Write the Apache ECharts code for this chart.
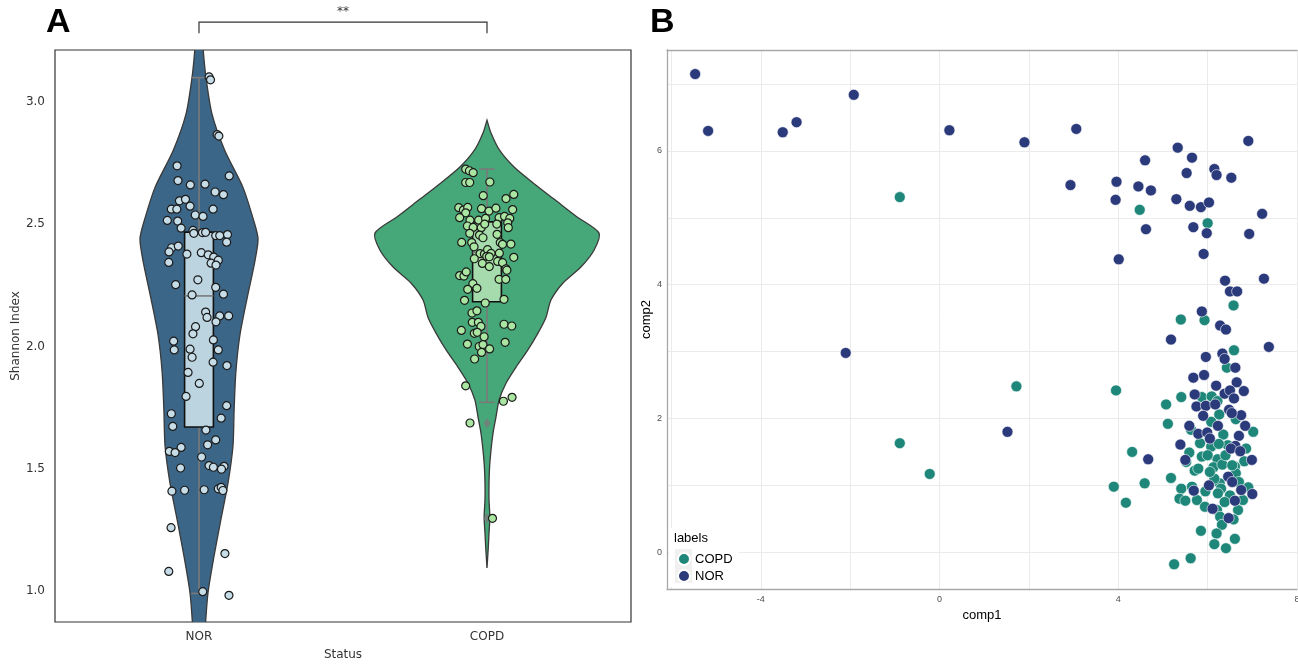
<!DOCTYPE html>
<html>
<head>
<meta charset="utf-8">
<script src="https://cdn.jsdelivr.net/npm/echarts@6/dist/echarts.min.js"></script>
<style>
  html, body { margin: 0; padding: 0; background: #fff; }
  #chart { width: 1298px; height: 665px; }
</style>
</head>
<body>
<div id="chart"></div>
<script>
// ---------- Panel A: Shannon index by status ----------
const groups = ['NOR', 'COPD'];
const yTicksA = [1.0, 1.5, 2.0, 2.5, 3.0];

// jittered samples: [x offset from group centre (category units), Shannon index]
const norShannon = [
  [0.035, 3.103], [0.040, 3.091], [0.063, 2.867], [0.069, 2.861], [-0.076, 2.739], [0.105, 2.698],
  [-0.073, 2.679], [-0.030, 2.661], [0.021, 2.664], [0.056, 2.632], [0.085, 2.621], [-0.068, 2.596],
  [-0.047, 2.602], [-0.031, 2.574], [-0.096, 2.562], [-0.077, 2.562], [0.049, 2.562], [-0.013, 2.538],
  [0.014, 2.532], [-0.110, 2.516], [-0.074, 2.513], [-0.062, 2.484], [-0.021, 2.475], [0.012, 2.466],
  [0.023, 2.467], [-0.018, 2.463], [0.058, 2.454], [0.072, 2.454], [0.099, 2.458], [0.096, 2.427],
  [-0.095, 2.404], [-0.072, 2.411], [-0.104, 2.387], [-0.042, 2.378], [0.008, 2.384], [0.032, 2.375],
  [0.051, 2.366], [0.067, 2.353], [0.042, 2.341], [0.059, 2.333], [-0.105, 2.344], [-0.004, 2.273],
  [-0.081, 2.253], [0.058, 2.242], [-0.024, 2.211], [0.085, 2.214], [0.023, 2.141], [0.028, 2.119],
  [0.072, 2.125], [0.103, 2.125], [0.059, 2.101], [-0.012, 2.081], [-0.021, 2.052], [-0.088, 2.022],
  [0.050, 2.027], [-0.086, 1.986], [-0.031, 1.989], [0.067, 1.986], [-0.024, 1.956], [0.049, 1.936],
  [0.097, 1.922], [-0.038, 1.894], [0.001, 1.849], [-0.045, 1.796], [0.096, 1.758], [-0.096, 1.725],
  [0.077, 1.707], [-0.091, 1.673], [0.024, 1.658], [0.058, 1.618], [0.030, 1.598], [-0.062, 1.587],
  [-0.103, 1.571], [-0.083, 1.566], [0.009, 1.548], [0.035, 1.513], [0.050, 1.506], [0.087, 1.510],
  [0.078, 1.498], [-0.064, 1.503], [-0.094, 1.408], [-0.050, 1.412], [0.018, 1.414], [0.067, 1.418],
  [0.077, 1.424], [0.083, 1.411], [-0.097, 1.259], [0.090, 1.153], [-0.105, 1.080], [0.013, 0.997],
  [0.104, 0.982]
];
const copdShannon = [
  [-0.074, 2.726], [-0.061, 2.719], [-0.048, 2.711], [-0.074, 2.671], [-0.060, 2.671], [0.010, 2.673],
  [-0.013, 2.617], [0.066, 2.605], [0.093, 2.622], [-0.098, 2.568], [-0.082, 2.558], [-0.067, 2.569],
  [-0.074, 2.547], [-0.095, 2.527], [-0.019, 2.564], [0.007, 2.554], [0.031, 2.566], [0.089, 2.560],
  [-0.059, 2.517], [-0.029, 2.517], [-0.005, 2.524], [0.042, 2.527], [0.061, 2.532], [0.079, 2.524],
  [-0.068, 2.493], [-0.048, 2.487], [-0.020, 2.486], [-0.008, 2.501], [0.034, 2.501], [0.072, 2.506],
  [0.074, 2.486], [-0.060, 2.463], [-0.026, 2.456], [-0.014, 2.445], [0.035, 2.459], [-0.088, 2.426],
  [-0.053, 2.425], [-0.045, 2.408], [0.046, 2.425], [0.054, 2.418], [0.083, 2.419], [-0.024, 2.380],
  [-0.009, 2.378], [0.002, 2.396], [0.014, 2.381], [-0.001, 2.369], [0.008, 2.367], [0.043, 2.382],
  [-0.044, 2.359], [0.093, 2.365], [-0.016, 2.340], [0.008, 2.327], [0.037, 2.348], [0.054, 2.343],
  [0.066, 2.318], [0.069, 2.312], [-0.095, 2.290], [-0.080, 2.288], [-0.072, 2.305], [0.042, 2.275],
  [0.065, 2.275], [-0.049, 2.257], [-0.035, 2.238], [-0.067, 2.234], [-0.078, 2.189], [-0.006, 2.178],
  [0.059, 2.193], [-0.052, 2.137], [-0.035, 2.146], [-0.051, 2.099], [-0.030, 2.099], [-0.021, 2.082],
  [-0.089, 2.066], [-0.044, 2.054], [-0.034, 2.058], [0.059, 2.091], [0.086, 2.084], [-0.010, 2.040],
  [-0.068, 2.010], [0.063, 2.017], [-0.027, 2.000], [-0.014, 2.008], [0.009, 1.990], [-0.019, 1.976],
  [-0.043, 1.949], [-0.074, 1.839], [0.087, 1.792], [0.057, 1.776], [-0.059, 1.687], [0.019, 1.297]
];

// violin outlines: [Shannon index, half width in category units]
const norViolin = [
  [3.30, 0.010], [3.208, 0.015], [3.103, 0.024], [2.952, 0.045], [2.801, 0.090], [2.650, 0.153],
  [2.499, 0.194], [2.439, 0.205], [2.348, 0.194], [2.197, 0.167], [2.046, 0.142], [1.895, 0.128],
  [1.744, 0.122], [1.594, 0.118], [1.443, 0.101], [1.292, 0.076], [1.141, 0.052], [0.990, 0.031],
  [0.839, 0.021], [0.75, 0.016]
];
const copdViolin = [
  [2.926, 0.000], [2.873, 0.014], [2.804, 0.043], [2.734, 0.094], [2.669, 0.160], [2.600, 0.236],
  [2.530, 0.313], [2.464, 0.389], [2.395, 0.372], [2.325, 0.326], [2.260, 0.264], [2.190, 0.222],
  [2.120, 0.205], [2.055, 0.177], [1.986, 0.142], [1.916, 0.101], [1.850, 0.066], [1.781, 0.042],
  [1.710, 0.031], [1.646, 0.021], [1.577, 0.014], [1.507, 0.009], [1.440, 0.007], [1.372, 0.007],
  [1.300, 0.010], [1.237, 0.007], [1.168, 0.004], [1.094, 0.000]
];

// box stats: [lower whisker, Q1, median, Q3, upper whisker]
const norBox = [0.99, 1.671, 2.207, 2.468, 3.10];
const copdBox = [1.772, 2.183, 2.385, 2.510, 2.726];
const copdOutliers = [1.686, 1.297];
const sigLabel = '**';

// ---------- Panel B: PCA scores (comp1, comp2) ----------
const xTicksB = [-4, 0, 4, 8];
const yTicksB = [0, 2, 4, 6];
const norPCA = [
  [-5.47, 7.15], [-5.18, 6.30], [-3.51, 6.28], [-3.20, 6.43], [-1.92, 6.84], [0.22, 6.31], [1.90, 6.13],
  [3.06, 6.33], [2.93, 5.49], [-2.10, 2.98], [1.52, 1.80],
  [5.33, 6.05], [6.91, 6.15], [4.60, 5.86], [5.65, 5.90], [5.53, 5.67], [6.15, 5.73], [6.20, 5.64],
  [6.53, 5.60], [3.96, 5.54], [4.45, 5.47], [4.73, 5.41], [3.94, 5.27], [5.30, 5.28], [5.60, 5.18],
  [5.85, 5.16], [6.03, 5.23], [7.22, 5.06], [4.62, 4.83], [5.68, 4.86], [5.98, 4.77], [6.93, 4.76],
  [4.01, 4.38], [5.91, 4.46], [6.39, 4.06], [7.26, 4.09], [6.50, 3.90], [6.66, 3.90], [5.87, 3.60],
  [6.28, 3.39], [6.41, 3.33], [5.18, 3.18], [7.37, 3.07],
  [6.33, 2.97], [6.38, 2.89], [5.96, 2.92], [6.62, 2.76], [5.68, 2.61], [5.92, 2.65], [6.19, 2.49],
  [6.65, 2.54], [6.81, 2.41], [5.71, 2.36], [6.38, 2.37], [6.50, 2.42], [6.59, 2.30], [5.75, 2.18],
  [5.96, 2.19], [6.17, 2.21], [5.90, 2.04], [6.48, 2.13], [6.75, 2.05], [6.54, 2.08], [5.59, 1.89],
  [6.23, 1.89], [6.84, 1.89], [5.79, 1.77], [5.99, 1.79], [6.05, 1.70], [6.70, 1.74], [5.39, 1.61],
  [6.62, 1.59], [6.52, 1.55], [6.73, 1.51], [4.67, 1.39], [5.50, 1.38], [6.99, 1.38], [6.46, 1.13],
  [6.55, 1.05], [6.03, 1.00], [5.69, 0.92], [6.75, 0.93], [7.00, 0.87], [6.61, 0.77], [6.11, 0.65],
  [6.47, 0.51]
];
const copdPCA = [
  [-0.89, 5.31], [1.72, 2.48], [-0.89, 1.63], [-0.22, 1.17],
  [4.48, 5.12], [6.00, 4.92], [6.58, 3.69], [5.40, 3.48], [5.93, 3.47],
  [6.59, 3.02], [6.43, 2.76], [3.95, 2.42], [5.41, 2.32], [5.07, 2.21], [5.87, 2.32], [6.09, 2.33],
  [6.22, 2.26], [5.11, 1.92], [5.63, 1.83], [6.08, 1.95], [6.26, 2.06], [6.63, 1.99], [6.35, 1.76],
  [7.02, 1.80], [5.83, 1.63], [6.08, 1.58], [6.86, 1.55], [4.31, 1.50], [5.59, 1.49], [5.87, 1.43],
  [6.22, 1.39], [6.82, 1.36], [5.52, 1.35], [6.13, 1.27], [6.33, 1.31], [6.61, 1.28], [5.71, 1.22],
  [5.79, 1.25], [6.63, 1.18], [5.18, 1.11], [4.59, 1.03], [3.90, 0.98], [5.41, 0.95], [5.65, 0.98],
  [5.95, 0.91], [6.27, 1.03], [6.30, 0.95], [6.91, 0.97], [5.37, 0.80], [5.50, 0.77], [5.76, 0.78],
  [6.23, 0.88], [4.17, 0.74], [5.94, 0.68], [6.21, 0.63], [6.28, 0.53], [6.68, 0.63], [6.79, 0.78],
  [6.58, 0.49], [6.32, 0.41], [5.85, 0.32], [6.20, 0.28], [6.61, 0.20], [6.15, 0.12], [6.41, 0.06],
  [5.62, -0.09], [5.25, -0.18],
  [6.45, 1.60], [6.40, 1.45], [6.50, 0.85], [6.38, 0.75], [6.15, 1.10], [6.05, 1.20], [6.70, 1.05],
  [6.55, 1.30], [6.25, 1.62], [6.00, 1.45]
];

const violinColors = ['#3c6688', '#46a778'];
const boxColors = ['#bbd4e0', '#a6dcad'];
const pointColors = ['#c6dde8', '#aae6a2'];
const norColor = '#2b3a7b';
const copdColor = '#1e877a';

const chart = echarts.init(document.getElementById('chart'), null, { renderer: 'canvas' });

function onTick(list, v) {
  return list.some(t => Math.abs(t - v) < 1e-6);
}

function violinItem(params, api) {
  const i = api.value(0);
  const prof = i === 0 ? norViolin : copdViolin;
  const right = prof.map(p => api.coord([i + p[1], p[0]]));
  const left = prof.slice().reverse().map(p => api.coord([i - p[1], p[0]]));
  return {
    type: 'polygon',
    shape: { points: right.concat(left), smooth: 0.25 },
    style: { fill: violinColors[i], stroke: '#3a3a3a', lineWidth: 1.3 }
  };
}

function boxItem(params, api) {
  const i = api.value(0);
  const s = i === 0 ? norBox : copdBox;
  const bw = 0.05, cw = 0.027;
  const grey = { stroke: '#7a7a7a', lineWidth: 1.6 };
  const tl = api.coord([i - bw, s[3]]);
  const br = api.coord([i + bw, s[1]]);
  const seg = (a, b) => ({ type: 'line', shape: { x1: a[0], y1: a[1], x2: b[0], y2: b[1] }, style: grey });
  return {
    type: 'group',
    children: [
      seg(api.coord([i, s[4]]), api.coord([i, s[3]])),
      seg(api.coord([i, s[1]]), api.coord([i, s[0]])),
      seg(api.coord([i - cw, s[4]]), api.coord([i + cw, s[4]])),
      seg(api.coord([i - cw, s[0]]), api.coord([i + cw, s[0]])),
      {
        type: 'rect',
        shape: { x: tl[0], y: tl[1], width: br[0] - tl[0], height: br[1] - tl[1] },
        style: { fill: boxColors[i], stroke: '#111', lineWidth: 1.6 }
      },
      seg(api.coord([i - bw, s[2]]), api.coord([i + bw, s[2]]))
    ]
  };
}

function bracketItem(params, api) {
  const a = api.coord([0, 3.327]);
  const b = api.coord([1, 3.327]);
  const a2 = api.coord([0, 3.282]);
  const b2 = api.coord([1, 3.282]);
  const st = { stroke: '#333', lineWidth: 1.2 };
  return {
    type: 'group',
    children: [
      { type: 'polyline', shape: { points: [a2, a, b, b2] }, style: { ...st, fill: null } },
      {
        type: 'text',
        x: (a[0] + b[0]) / 2, y: a[1] - 4,
        style: { text: sigLabel, fill: '#333', font: '12px "DejaVu Sans"', align: 'center', verticalAlign: 'bottom' }
      }
    ]
  };
}

const ggLabel = { color: '#4d4d4d', fontSize: 9, fontFamily: 'Liberation Sans' };
const ggAxisLine = { show: true, onZero: false, lineStyle: { color: '#a8a8a8', width: 1.3 } };

const option = {
  animation: false,
  textStyle: { fontFamily: 'DejaVu Sans' },
  grid: [
    { left: 55, top: 50, width: 576, height: 572, show: true, borderColor: '#333', borderWidth: 1.2, outerBoundsMode: 'none', containLabel: false },
    { left: 667, top: 50, width: 630, height: 539, show: false, outerBoundsMode: 'none', containLabel: false }
  ],
  xAxis: [
    {
      type: 'category', gridIndex: 0, data: groups, position: 'bottom',
      axisLine: { show: false }, axisTick: { show: false },
      axisLabel: { color: '#333', fontSize: 12, margin: 9 },
      name: 'Status', nameLocation: 'middle', nameGap: 27,
      nameTextStyle: { color: '#333', fontSize: 12 }
    },
    { type: 'value', gridIndex: 0, min: -0.5, max: 1.5, show: false, position: 'top' },
    {
      type: 'value', gridIndex: 1, min: -6.1, max: 8, splitNumber: 7, position: 'bottom',
      axisLine: ggAxisLine,
      axisTick: { show: false },
      axisLabel: { ...ggLabel, margin: 6, formatter: v => onTick(xTicksB, v) ? String(Math.round(v)) : '' },
      splitLine: { show: true, lineStyle: { color: '#ebebeb', width: 1 } },
      name: 'comp1', nameLocation: 'middle', nameGap: 15,
      nameTextStyle: { color: '#000', fontSize: 13, fontFamily: 'Liberation Sans' }
    },
    {
      // top frame line of panel B
      type: 'value', gridIndex: 1, min: -6.1, max: 8, position: 'top',
      axisLine: ggAxisLine, axisTick: { show: false }, axisLabel: { show: false }, splitLine: { show: false }
    }
  ],
  yAxis: [
    {
      type: 'value', gridIndex: 0, min: 0.873, max: 3.213, splitNumber: 5,
      axisLine: { show: false }, axisTick: { show: false }, splitLine: { show: false },
      axisLabel: { color: '#333', fontSize: 12, margin: 10, formatter: v => onTick(yTicksA, v) ? v.toFixed(1) : '' },
      name: 'Shannon Index', nameLocation: 'middle', nameGap: 33,
      nameTextStyle: { color: '#333', fontSize: 12 }
    },
    {
      type: 'value', gridIndex: 1, min: -0.55, max: 7.51, splitNumber: 8,
      axisLine: ggAxisLine,
      axisTick: { show: false },
      axisLabel: { ...ggLabel, margin: 5, formatter: v => onTick(yTicksB, v) ? String(Math.round(v)) : '' },
      splitLine: { show: true, lineStyle: { color: '#ebebeb', width: 1 } },
      name: 'comp2', nameLocation: 'middle', nameGap: 14,
      nameTextStyle: { color: '#000', fontSize: 13, fontFamily: 'Liberation Sans' }
    }
  ],
  legend: {
    data: ['COPD', 'NOR'], orient: 'vertical', left: 672, top: 547, padding: 5,
    itemWidth: 12, itemHeight: 12, itemGap: 3, icon: 'circle',
    textStyle: { color: '#000', fontSize: 13, fontFamily: 'Liberation Sans' },
    z: 10
  },
  graphic: [
    { type: 'text', left: 46, top: 6, style: { text: 'A', font: 'bold 34px "Liberation Sans"', fill: '#000' } },
    { type: 'text', left: 650, top: 6, style: { text: 'B', font: 'bold 34px "Liberation Sans"', fill: '#000' } },
    { type: 'rect', left: 669, top: 528, shape: { width: 70, height: 59 }, style: { fill: '#fff' }, z: 4 },
    { type: 'text', left: 674, top: 532, style: { text: 'labels', font: '13px "Liberation Sans"', fill: '#000' }, z: 5 },
    { type: 'rect', left: 675, top: 549, shape: { width: 17, height: 34 }, style: { fill: '#f0f0f0' }, z: 5 }
  ],
  series: [
    {
      type: 'custom', name: 'violin', xAxisIndex: 1, yAxisIndex: 0, clip: true,
      data: groups.map((g, i) => [i, (i ? copdBox : norBox)[2]]),
      renderItem: violinItem
    },
    {
      type: 'custom', name: 'box', xAxisIndex: 1, yAxisIndex: 0,
      data: groups.map((g, i) => [i, (i ? copdBox : norBox)[2]]),
      renderItem: boxItem
    },
    {
      type: 'scatter', name: 'outliers', xAxisIndex: 1, yAxisIndex: 0,
      symbol: 'diamond', symbolSize: [7, 10],
      itemStyle: { color: '#7a7a7a' },
      data: copdOutliers.map(v => [1, v])
    },
    {
      type: 'scatter', name: 'NOR samples', xAxisIndex: 1, yAxisIndex: 0, symbolSize: 8,
      itemStyle: { color: pointColors[0], borderColor: '#1a1a1a', borderWidth: 1.2, opacity: 1 },
      data: norShannon.map(p => [p[0], p[1]])
    },
    {
      type: 'scatter', name: 'COPD samples', xAxisIndex: 1, yAxisIndex: 0, symbolSize: 8,
      itemStyle: { color: pointColors[1], borderColor: '#1a1a1a', borderWidth: 1.2, opacity: 1 },
      data: copdShannon.map(p => [1 + p[0], p[1]])
    },
    {
      type: 'custom', name: 'bracket', xAxisIndex: 1, yAxisIndex: 0, clip: false,
      data: [[0, 3.3]], renderItem: bracketItem
    },
    {
      type: 'scatter', name: 'COPD', xAxisIndex: 2, yAxisIndex: 1, symbolSize: 11,
      itemStyle: { color: copdColor, borderColor: '#ffffff', borderWidth: 0.6, opacity: 1 },
      data: copdPCA
    },
    {
      type: 'scatter', name: 'NOR', xAxisIndex: 2, yAxisIndex: 1, symbolSize: 11,
      itemStyle: { color: norColor, borderColor: '#ffffff', borderWidth: 0.6, opacity: 1 },
      data: norPCA
    }
  ]
};

chart.setOption(option);
window.addEventListener('resize', () => chart.resize());
</script>
</body>
</html>
